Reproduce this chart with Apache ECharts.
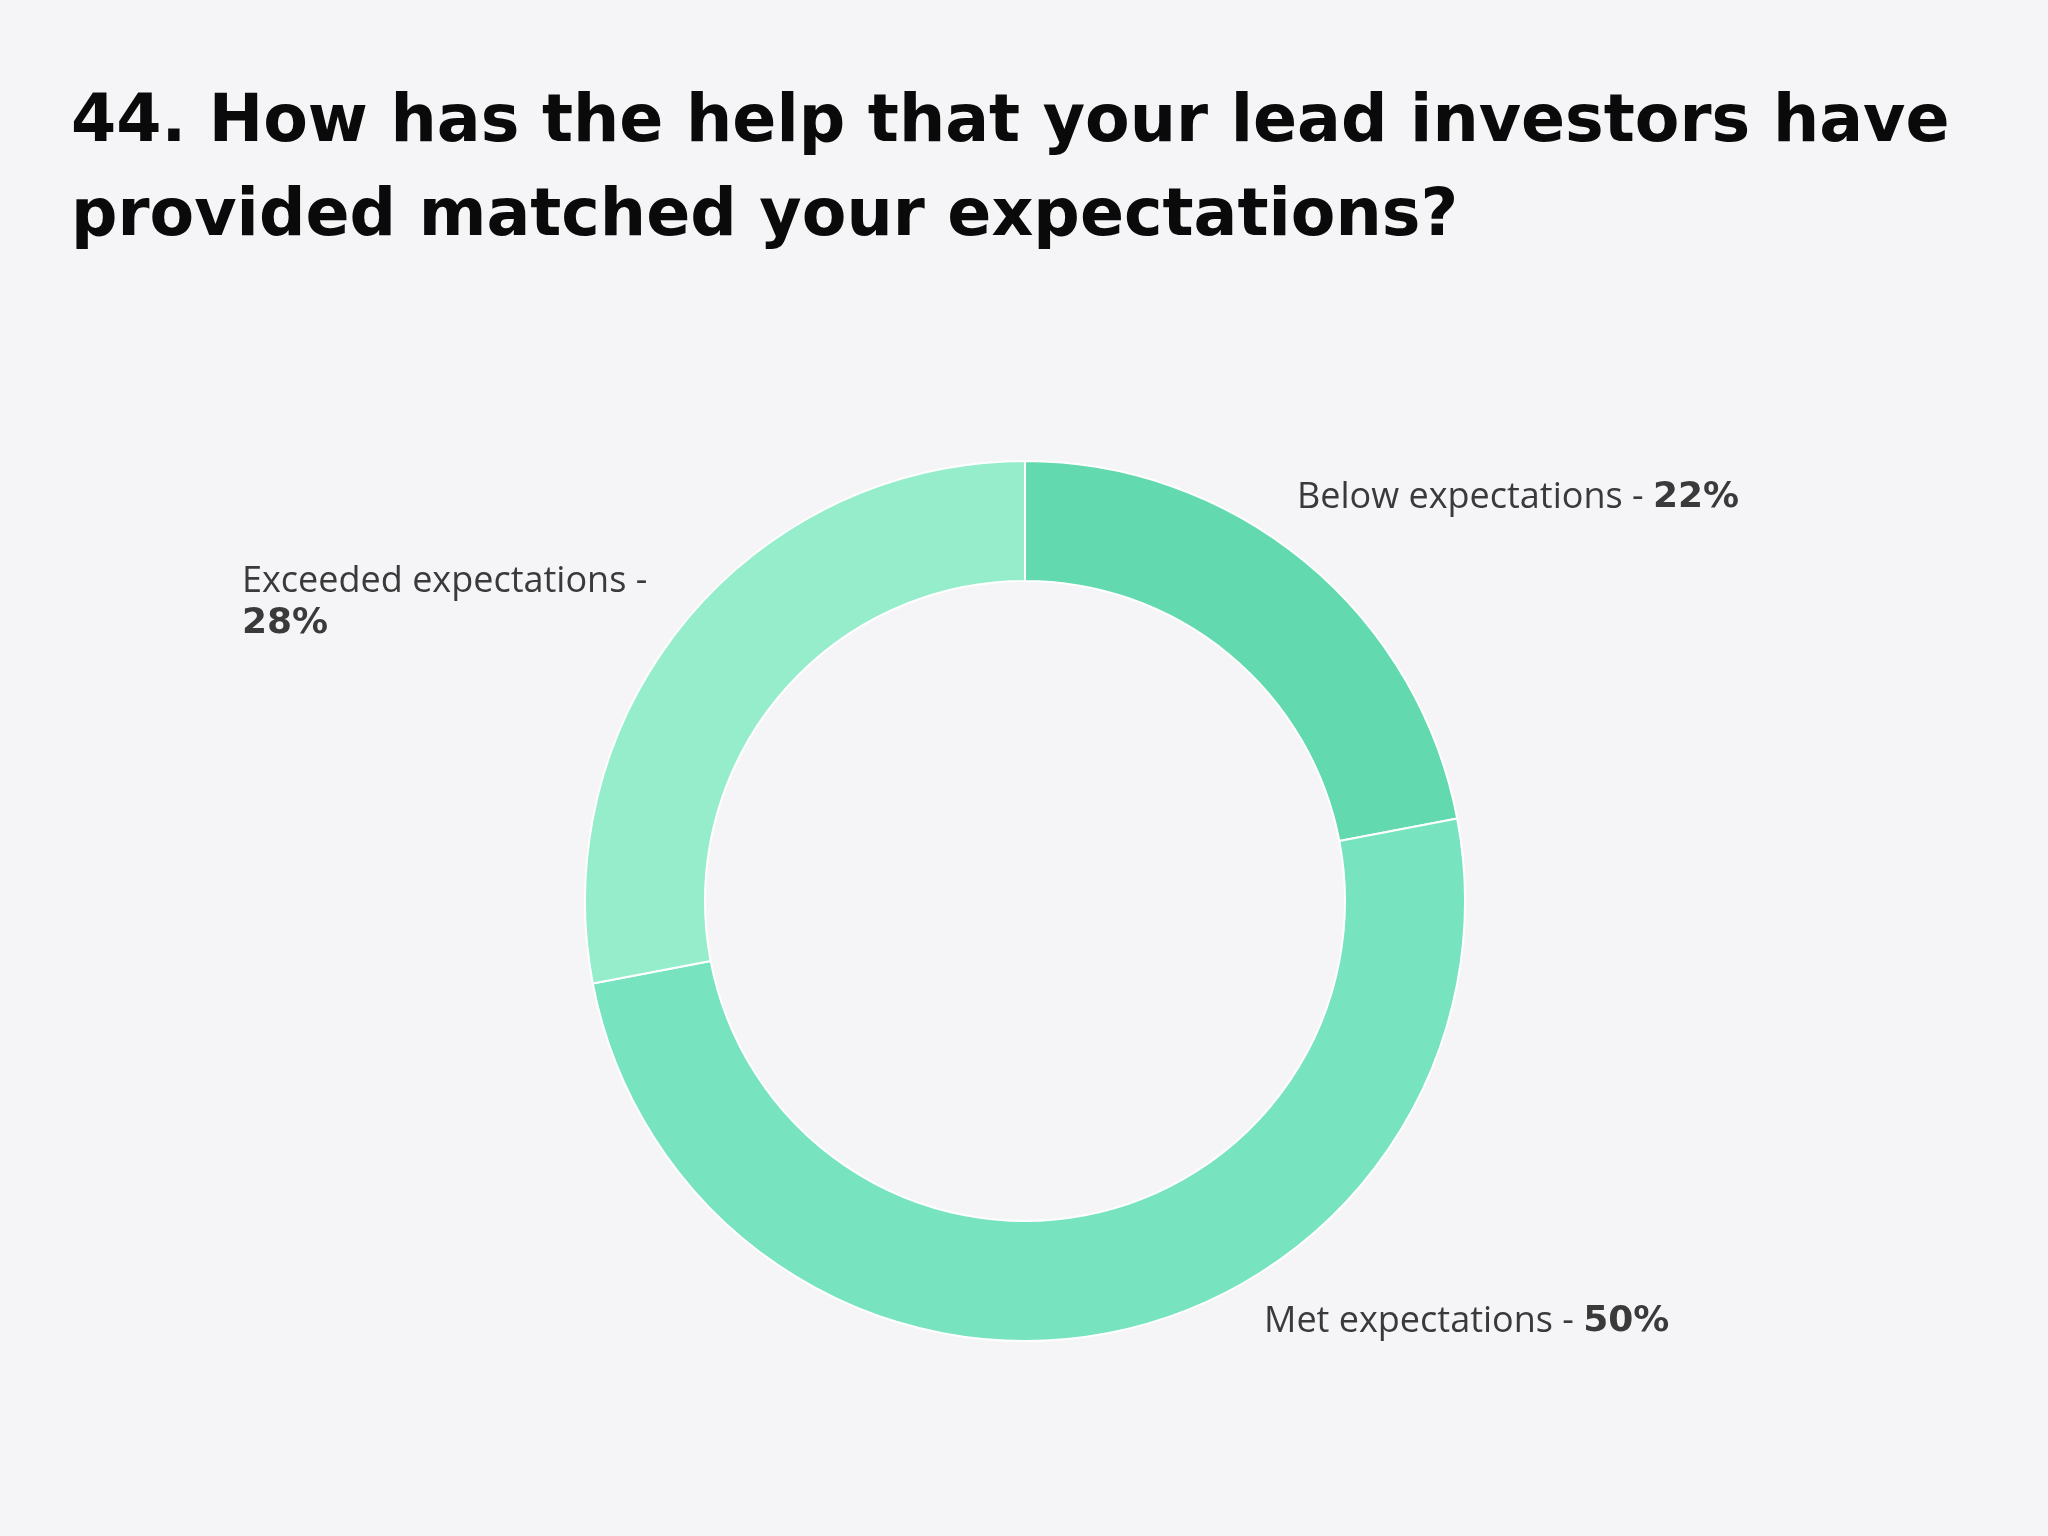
<!DOCTYPE html>
<html lang="en">
<head>
<meta charset="UTF-8" />
<title>Lead investors help</title>
<style>html,body{margin:0;background:#f5f5f8;}</style>
</head>
<body>
<div id="main" style="width:2048px;height:1536px"></div>
<script src="https://cdn.jsdelivr.net/npm/echarts@6/dist/echarts.min.js"></script>
<script>
  var categories = ["Below expectations", "Met expectations", "Exceeded expectations"];
  var values = [22, 50, 28];
  var colors = ["#62d9ae", "#78e3bf", "#95edcc"];
  // label anchors (left edge, vertical middle)
  var labelPos = [[1297, 498], [1264, 1322], [242, 603]];

  var myChart = echarts.init(document.getElementById("main"));
  var option = {
    backgroundColor: "#f5f5f8",
    title: {
      text: "44. How has the help that your lead investors have\nprovided matched your expectations?",
      left: 66,
      top: 72,
      textStyle: {
        fontFamily: "DejaVu Sans",
        fontWeight: "bold",
        fontSize: 65,
        lineHeight: 94,
        color: "#0a0a0a"
      }
    },
    series: [{
      type: "pie",
      center: [1025, 901],
      radius: [320, 440],
      startAngle: 90,
      clockwise: true,
      silent: true,
      itemStyle: { borderColor: "#ffffff", borderWidth: 2 },
      labelLine: { show: false },
      label: {
        show: true,
        formatter: function (p) {
          var sep = p.dataIndex === 2 ? " -\n" : " - ";
          return "{n|" + p.name + sep + "}{b|" + p.value + "%}";
        },
        rich: {
          n: { fontFamily: "Open Sans", fontSize: 36, color: "#3a3a3a", lineHeight: 42 },
          b: { fontFamily: "DejaVu Sans", fontSize: 36, fontWeight: "bold", color: "#3a3a3a", lineHeight: 42 }
        }
      },
      labelLayout: function (params) {
        var pos = labelPos[params.dataIndex];
        return { x: pos[0], y: pos[1], align: "left", verticalAlign: "middle" };
      },
      data: categories.map(function (c, i) {
        return { name: c, value: values[i], itemStyle: { color: colors[i] } };
      })
    }]
  };
  myChart.setOption(option);
</script>
</body>
</html>
